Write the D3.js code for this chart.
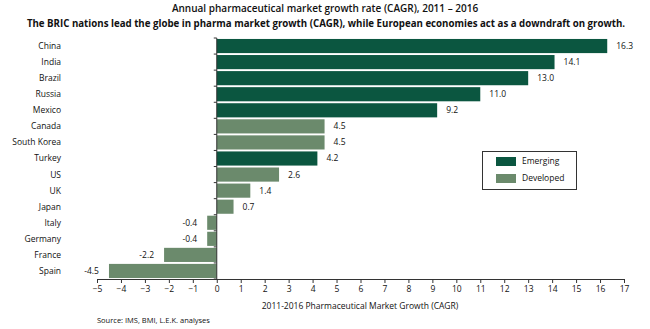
<!DOCTYPE html>
<html>
<head>
<meta charset="utf-8">
<script src="https://cdn.jsdelivr.net/npm/d3@7"></script>
<style>
  body { margin: 0; background: #fff; }
  svg text { font-family: "Open Sans", "Noto Sans", sans-serif; fill: #111; }
</style>
</head>
<body>
<div id="chart"></div>
<script>
// chart data
let countries = ["China", "India", "Brazil", "Russia", "Mexico", "Canada", "South Korea", "Turkey",
  "US", "UK", "Japan", "Italy", "Germany", "France", "Spain"];
let growth = [16.3, 14.1, 13.0, 11.0, 9.2, 4.5, 4.5, 4.2, 2.6, 1.4, 0.7, -0.4, -0.4, -2.2, -4.5];
let groups = ["Emerging", "Emerging", "Emerging", "Emerging", "Emerging", "Developed", "Developed", "Emerging",
  "Developed", "Developed", "Developed", "Developed", "Developed", "Developed", "Developed"];
let legend_groups = ["Emerging", "Developed"];
let legend_colors = ["#0b5640", "#6b8a6c"];
let xTicks = d3.range(-5, 18);

let width = 650;
let height = 329;

let svg = d3.select("#chart").append("svg")
  .attr("width", width)
  .attr("height", height);

let color = d3.scaleOrdinal()
  .domain(legend_groups)
  .range(legend_colors);

let x = d3.scaleLinear()
  .domain([-5, 17])
  .range([97, 624]);

let y = d3.scaleBand()
  .domain(countries)
  .range([38, 279])
  .paddingInner(0.12)
  .paddingOuter(0.06);

let data = countries.map(function (d, i) {
  return { name: d, value: growth[i], group: groups[i] };
});

// titles
svg.append("text")
  .attr("x", 325).attr("y", 12)
  .attr("text-anchor", "middle")
  .style("font-size", "10px")
  .style("font-weight", "600")
  .text("Annual pharmaceutical market growth rate (CAGR), 2011 \u2013 2016");

svg.append("text")
  .attr("x", 326).attr("y", 27)
  .attr("text-anchor", "middle")
  .style("font-size", "9.7px")
  .style("font-weight", "700")
  .text("The BRIC nations lead the globe in pharma market growth (CAGR), while European economies act as a downdraft on growth.");

// bars
svg.selectAll("rect.bar")
  .data(data)
  .enter()
  .append("rect")
  .attr("class", "bar")
  .attr("x", function (d) { return x(Math.min(0, d.value)); })
  .attr("y", function (d) { return y(d.name); })
  .attr("width", function (d) { return Math.abs(x(d.value) - x(0)); })
  .attr("height", y.bandwidth())
  .style("fill", function (d) { return color(d.group); });

// value labels
svg.selectAll("text.value")
  .data(data)
  .enter()
  .append("text")
  .attr("class", "value")
  .attr("x", function (d) { return d.value < 0 ? x(d.value) - 10 : x(d.value) + 9; })
  .attr("y", function (d) { return y(d.name) + y.bandwidth() / 2; })
  .attr("dy", "0.35em")
  .attr("text-anchor", function (d) { return d.value < 0 ? "end" : "start"; })
  .style("font-size", "8.5px")
  .text(function (d) { return d.value.toFixed(1); });

// category labels
svg.selectAll("text.cat")
  .data(data)
  .enter()
  .append("text")
  .attr("class", "cat")
  .attr("x", 61)
  .attr("y", function (d) { return y(d.name) + y.bandwidth() / 2; })
  .attr("dy", "0.35em")
  .attr("text-anchor", "end")
  .style("font-size", "8.5px")
  .text(function (d) { return d.name; });

// x axis
let xAxis = svg.append("g")
  .attr("transform", "translate(0, 279)")
  .call(d3.axisBottom(x).tickValues(xTicks).tickSize(4).tickPadding(3).tickSizeOuter(0));
xAxis.select(".domain").attr("stroke", "#333");
xAxis.selectAll(".tick line").attr("stroke", "#333");
xAxis.selectAll(".tick text")
  .style("font-size", "8.5px")
  .style("font-family", "'Open Sans', 'Noto Sans', sans-serif")
  .attr("fill", "#111");

// y axis line at zero, with ticks on the band edges
let edges = countries.map(function (d) { return y(d) - y.step() * y.paddingInner() / 2; });
edges.push(279);
svg.append("line")
  .attr("x1", x(0)).attr("x2", x(0))
  .attr("y1", edges[0]).attr("y2", 279)
  .attr("stroke", "#333");
svg.selectAll("line.ytick")
  .data(edges)
  .enter()
  .append("line")
  .attr("class", "ytick")
  .attr("x1", x(0) - 3).attr("x2", x(0))
  .attr("y1", function (d) { return d; })
  .attr("y2", function (d) { return d; })
  .attr("stroke", "#333");

// axis title and source
svg.append("text")
  .attr("x", 360).attr("y", 309)
  .attr("text-anchor", "middle")
  .style("font-size", "8.5px")
  .text("2011-2016 Pharmaceutical Market Growth (CAGR)");

svg.append("text")
  .attr("x", 97).attr("y", 323)
  .style("font-size", "7.5px")
  .text("Source: IMS, BMI, L.E.K. analyses");

// legend
let legend = svg.append("g");
legend.append("rect")
  .attr("x", 482.5).attr("y", 151.5)
  .attr("width", 94).attr("height", 38)
  .attr("fill", "#fff")
  .attr("stroke", "#333");

legend.selectAll("rect.sw")
  .data(legend_groups)
  .enter()
  .append("rect")
  .attr("class", "sw")
  .attr("x", 496)
  .attr("y", function (d, i) { return 157 + i * 17; })
  .attr("width", 20).attr("height", 9)
  .style("fill", function (d) { return color(d); });

legend.selectAll("text.lg")
  .data(legend_groups)
  .enter()
  .append("text")
  .attr("class", "lg")
  .attr("x", 522)
  .attr("y", function (d, i) { return 161.5 + i * 17; })
  .attr("dy", "0.35em")
  .style("font-size", "8.5px")
  .text(function (d) { return d; });
</script>
</body>
</html>
